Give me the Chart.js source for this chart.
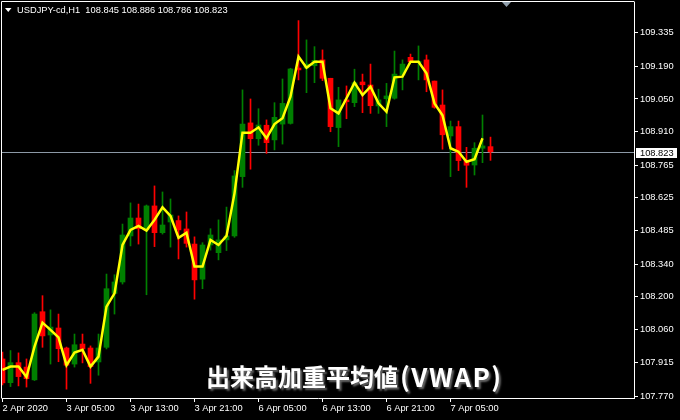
<!DOCTYPE html>
<html><head><meta charset="utf-8">
<script src="https://cdn.jsdelivr.net/npm/chart.js@4.4.1/dist/chart.umd.min.js"></script>
<style>html,body{margin:0;padding:0;background:#000;overflow:hidden}#wrap{width:680px;height:420px;position:relative}canvas{display:block}</style>
</head><body><div id="wrap"><canvas id="c" width="680" height="420" style="width:680px;height:420px"></canvas></div>
<script>
// ---- data (hourly candles, USDJPY H1) ----
const opens = [107.932,107.830,107.916,107.897,107.842,108.135,108.035,108.065,107.979,107.910,
107.996,107.979,107.919,107.982,108.214,108.263,108.461,108.538,108.487,108.590,
108.475,108.521,108.527,108.491,108.426,108.275,108.422,108.389,108.444,108.461,
108.716,108.947,108.879,108.937,108.874,108.942,108.945,109.183,109.183,109.193,
109.218,109.139,108.927,109.046,109.034,109.123,109.110,109.020,109.051,109.053,
109.153,109.229,109.206,109.218,109.127,109.024,108.891,108.931,108.785,108.766,
108.838,108.845];
const highs = [107.962,107.968,107.958,107.932,108.131,108.204,108.143,108.125,107.983,108.039,
108.039,107.988,108.039,108.297,108.294,108.512,108.603,108.598,108.594,108.676,
108.650,108.620,108.547,108.564,108.457,108.432,108.492,108.530,108.585,108.742,
109.089,109.050,109.008,108.960,109.034,109.136,109.182,109.387,109.304,109.275,
109.261,109.139,109.100,109.106,109.178,109.157,109.200,109.092,109.117,109.256,
109.218,109.243,109.278,109.239,109.127,109.089,108.955,108.955,108.842,108.862,
108.981,108.886];
const lows = [107.820,107.813,107.816,107.811,107.839,107.982,107.910,107.920,107.802,107.897,
107.915,107.827,107.862,107.975,108.125,108.254,108.418,108.426,108.208,108.415,
108.469,108.413,108.362,108.413,108.189,108.234,108.400,108.358,108.398,108.455,
108.670,108.748,108.851,108.816,108.831,108.856,108.942,109.132,109.077,109.120,
109.129,108.909,108.845,108.965,109.017,108.991,108.988,108.988,108.931,109.049,
109.089,109.206,109.132,109.081,109.010,108.834,108.716,108.742,108.670,108.723,
108.776,108.786];
const closes = [107.829,107.916,107.856,107.847,108.125,108.031,108.069,107.976,107.905,107.993,
107.975,107.899,107.979,108.234,108.263,108.465,108.538,108.492,108.590,108.475,
108.508,108.551,108.487,108.429,108.272,108.422,108.465,108.444,108.461,108.719,
108.942,108.879,108.938,108.862,108.971,109.031,109.179,109.175,109.200,109.216,
109.139,108.931,109.046,109.038,109.120,109.111,109.021,109.046,109.063,109.157,
109.200,109.210,109.212,109.132,109.014,108.896,108.931,108.785,108.765,108.838,
108.848,108.823];
const vwap = [107.885,107.899,107.899,107.854,107.985,108.088,108.057,108.025,107.905,107.959,
107.971,107.899,107.942,108.157,108.214,108.422,108.487,108.504,108.484,108.530,
108.584,108.547,108.453,108.475,108.329,108.329,108.444,108.422,108.461,108.644,
108.905,108.905,108.928,108.881,108.942,108.967,109.060,109.232,109.184,109.210,
109.210,109.010,108.988,109.053,109.120,109.067,109.103,109.031,108.995,109.143,
109.146,109.210,109.210,109.160,109.031,108.980,108.838,108.823,108.780,108.791,
108.881];
const yTickValues = [109.335,109.190,109.050,108.910,108.765,108.625,108.485,108.340,108.200,108.060,107.915,107.770];
const xTickLabels = ['2 Apr 2020','3 Apr 05:00','3 Apr 13:00','3 Apr 21:00','6 Apr 05:00','6 Apr 13:00','6 Apr 21:00','7 Apr 05:00'];
const xTickIndex = [0,8,16,24,32,40,48,56];
const symbol = 'USDJPY-cd,H1';
const captionMain = '出来高加重平均値';
const captionAbbr = '(VWAP)';

const last = opens.length - 1;
const lastPrice = closes[last];
const UP = '#008000', DOWN = '#ff0000';
const candleColor = (ctx) => closes[ctx.dataIndex] >= opens[ctx.dataIndex] ? UP : DOWN;

const wickData = opens.map((o, i) => ({x: i, y: [lows[i], highs[i]]}));
const bodyData = opens.map((o, i) => ({x: i, y: [o, closes[i]]}));
const vwapData = vwap.map((v, i) => ({x: i, y: v}));

const FONT = '"Liberation Sans", Arial, sans-serif';

const overlay = {
  id: 'overlay',
  beforeDraw(chart) {
    const c = chart.ctx; c.save(); c.fillStyle = '#000'; c.fillRect(0, 0, chart.width, chart.height); c.restore();
  },
  beforeDatasetsDraw(chart) {
    const {ctx, chartArea: a, scales: {y}} = chart;
    const py = Math.round(y.getPixelForValue(lastPrice)) + 0.5;
    ctx.save(); ctx.strokeStyle = '#8c99a6'; ctx.lineWidth = 1;
    ctx.beginPath(); ctx.moveTo(a.left, py); ctx.lineTo(a.right, py); ctx.stroke(); ctx.restore();
  },
  afterDraw(chart) {
    const {ctx, chartArea: a, scales: {y}} = chart;
    ctx.save();
    ctx.strokeStyle = '#fff'; ctx.lineWidth = 1;
    ctx.beginPath(); ctx.moveTo(1.5, a.bottom + 0.5); ctx.lineTo(1.5, 1.5); ctx.lineTo(a.right + 0.5, 1.5); ctx.stroke();
    // current price tag
    const py = Math.round(y.getPixelForValue(lastPrice));
    ctx.fillStyle = '#fff'; ctx.fillRect(a.right + 2, py - 4, 41, 10);
    ctx.fillStyle = '#000'; ctx.font = '9.3px ' + FONT; ctx.textBaseline = 'middle'; ctx.textAlign = 'left';
    ctx.fillText(lastPrice.toFixed(3), a.right + 6, py + 1);
    // header
    ctx.fillStyle = '#fff';
    ctx.beginPath(); ctx.moveTo(5, 8); ctx.lineTo(11.5, 8); ctx.lineTo(8.25, 12); ctx.closePath(); ctx.fill();
    const hdr = symbol + '  ' + [opens[last], highs[last], lows[last], closes[last]].map(v => v.toFixed(3)).join(' ');
    ctx.fillText(hdr, 17, 10);
    // chart shift marker
    ctx.fillStyle = '#8f9eab';
    ctx.beginPath(); ctx.moveTo(502, 2); ctx.lineTo(511, 2); ctx.lineTo(506.5, 7); ctx.closePath(); ctx.fill();
    // caption
    ctx.textBaseline = 'alphabetic';
    ctx.shadowColor = 'rgba(110,110,110,0.95)'; ctx.shadowOffsetX = 2; ctx.shadowOffsetY = 2; ctx.shadowBlur = 2;
    ctx.fillStyle = '#fff';
    ctx.font = 'bold 24px "Noto Sans CJK JP"';
    ctx.fillText(captionMain, 206, 386);
    const w = ctx.measureText(captionMain).width;
    ctx.font = 'bold 26px "Noto Sans CJK JP"';
    ctx.letterSpacing = '1.5px';
    ctx.fillText(captionAbbr, 206 + w + 2, 387);
    ctx.restore();
  }
};

new Chart(document.getElementById('c'), {
  type: 'bar',
  data: {
    datasets: [
      {type: 'bar', data: wickData, grouped: false, barThickness: 1, backgroundColor: candleColor, borderWidth: 0, order: 3},
      {type: 'bar', data: bodyData, grouped: false, barThickness: 5, minBarLength: 1, backgroundColor: candleColor, borderWidth: 0, order: 2},
      {type: 'line', data: vwapData, borderColor: '#ffff00', borderWidth: 2.5, pointRadius: 0, tension: 0, fill: false, order: 1}
    ]
  },
  options: {
    responsive: false, maintainAspectRatio: false, animation: false, devicePixelRatio: 1,
    layout: {padding: {left: 2, top: 2, right: 0, bottom: 0}},
    plugins: {legend: {display: false}, tooltip: {enabled: false}},
    scales: {
      x: {
        type: 'linear', min: -0.0625, max: 78.9375, offset: false,
        afterFit: (s) => { s.height = 22; s.paddingLeft = 0; s.paddingRight = 0; },
        afterBuildTicks: (s) => { s.ticks = xTickIndex.map(v => ({value: v})); },
        grid: {display: true, offset: false, drawOnChartArea: false, drawTicks: true, tickLength: 4, color: '#fff'},
        border: {display: true, color: '#fff', width: 1},
        ticks: {autoSkip: false, maxRotation: 0, align: 'start', padding: 1, color: '#fff', font: {family: FONT, size: 9.3},
          callback: (v) => xTickLabels[xTickIndex.indexOf(v)]}
      },
      y: {
        type: 'linear', position: 'right', min: 107.764, max: 109.467,
        afterFit: (s) => { s.width = 46; s.paddingTop = 0; s.paddingBottom = 0; },
        afterBuildTicks: (s) => { s.ticks = yTickValues.map(v => ({value: v})); },
        grid: {display: true, drawOnChartArea: false, drawTicks: true, tickLength: 4, color: '#fff'},
        border: {display: true, color: '#fff', width: 1},
        ticks: {autoSkip: false, padding: 2, color: '#fff', font: {family: FONT, size: 9.3},
          callback: (v) => Number(v).toFixed(3)}
      }
    }
  },
  plugins: [overlay]
});
</script>
</body></html>
